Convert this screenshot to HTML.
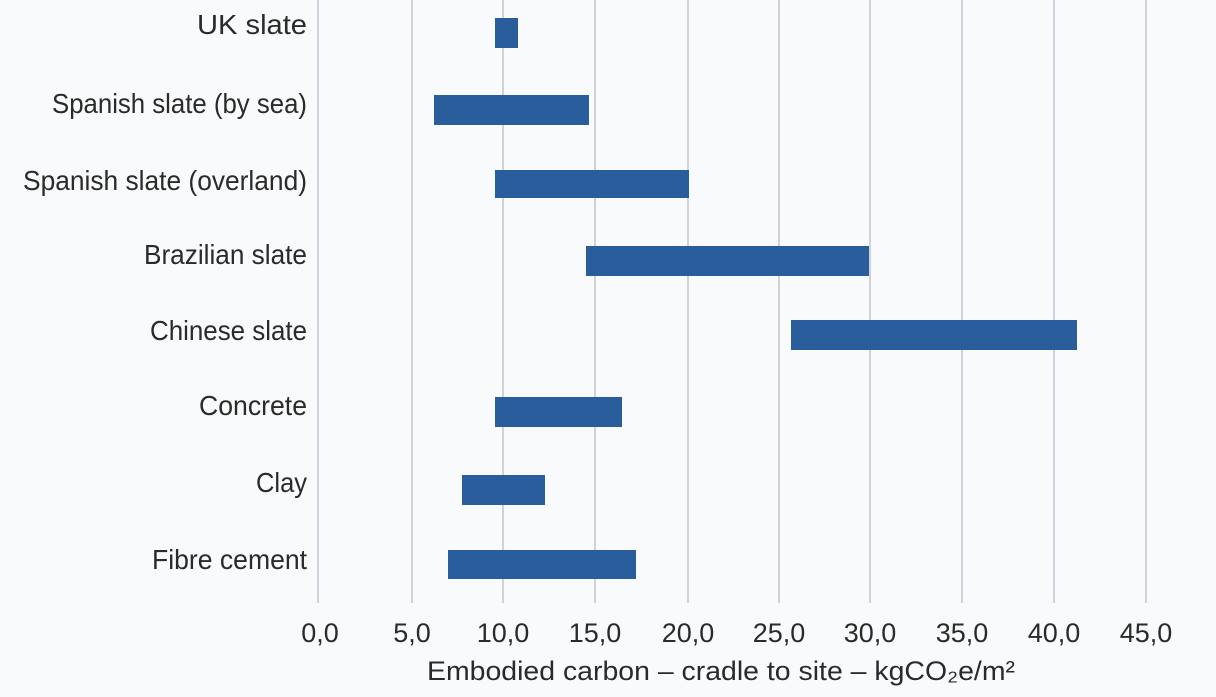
<!DOCTYPE html>
<html><head><meta charset="utf-8"><style>
html,body{margin:0;padding:0;background:#f9fafb;}
svg{display:block;font-family:"Liberation Sans",sans-serif;fill:#2a2a2a;}
</style></head><body>
<svg width="1216" height="697" viewBox="0 0 1216 697">
<rect width="1216" height="697" fill="#f9fafb"/>
<g stroke="#cdd3da" stroke-width="2">
<line x1="318" y1="0" x2="318" y2="603"/>
<line x1="412" y1="0" x2="412" y2="603"/>
<line x1="503" y1="0" x2="503" y2="603"/>
<line x1="595" y1="0" x2="595" y2="603"/>
<line x1="688" y1="0" x2="688" y2="603"/>
<line x1="779" y1="0" x2="779" y2="603"/>
<line x1="870" y1="0" x2="870" y2="603"/>
<line x1="962" y1="0" x2="962" y2="603"/>
<line x1="1054" y1="0" x2="1054" y2="603"/>
<line x1="1146" y1="0" x2="1146" y2="603"/>
</g>
<g fill="#2a5d9c">
<rect x="495" y="18" width="23" height="30"/>
<rect x="434" y="95" width="155" height="30"/>
<rect x="495" y="170" width="194" height="28"/>
<rect x="586" y="246" width="283" height="30"/>
<rect x="791" y="320" width="286" height="30"/>
<rect x="495" y="397" width="127" height="30"/>
<rect x="462" y="475" width="83" height="30"/>
<rect x="448" y="550" width="188" height="29"/>
</g>
<g font-size="28" text-anchor="end">
<text x="307" y="34" textLength="110" lengthAdjust="spacingAndGlyphs">UK slate</text>
<text x="307" y="113" textLength="255" lengthAdjust="spacingAndGlyphs">Spanish slate (by sea)</text>
<text x="307" y="190" textLength="284" lengthAdjust="spacingAndGlyphs">Spanish slate (overland)</text>
<text x="307" y="264" textLength="163" lengthAdjust="spacingAndGlyphs">Brazilian slate</text>
<text x="307" y="340" textLength="157" lengthAdjust="spacingAndGlyphs">Chinese slate</text>
<text x="307" y="415" textLength="108" lengthAdjust="spacingAndGlyphs">Concrete</text>
<text x="307" y="492" textLength="51" lengthAdjust="spacingAndGlyphs">Clay</text>
<text x="307" y="569" textLength="155" lengthAdjust="spacingAndGlyphs">Fibre cement</text>
</g>
<g font-size="27" text-anchor="middle">
<text x="320" y="642">0,0</text>
<text x="412" y="642">5,0</text>
<text x="503" y="642">10,0</text>
<text x="595" y="642">15,0</text>
<text x="688" y="642">20,0</text>
<text x="779" y="642">25,0</text>
<text x="870" y="642">30,0</text>
<text x="962" y="642">35,0</text>
<text x="1054" y="642">40,0</text>
<text x="1146" y="642">45,0</text>
</g>
<text x="427" y="680" font-size="27" textLength="588" lengthAdjust="spacingAndGlyphs">Embodied carbon – cradle to site – kgCO₂e/m²</text>
</svg>
</body></html>
